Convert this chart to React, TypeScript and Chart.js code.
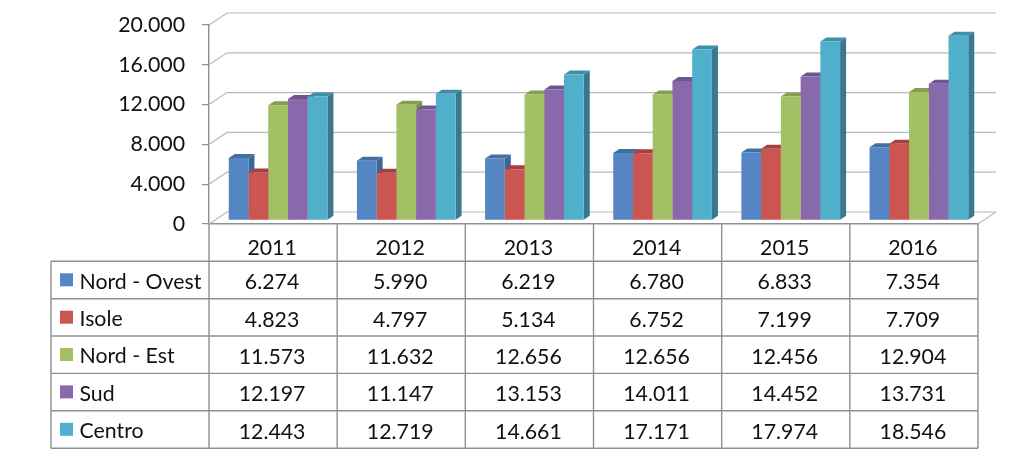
import React, { useEffect, useRef } from "react";
import { Chart, registerables } from "chart.js";

Chart.register(...registerables);

const years = ["2011", "2012", "2013", "2014", "2015", "2016"];
const seriesNames = ["Nord - Ovest", "Isole", "Nord - Est", "Sud", "Centro"];
const nordOvest = [6274, 5990, 6219, 6780, 6833, 7354];
const isole = [4823, 4797, 5134, 6752, 7199, 7709];
const nordEst = [11573, 11632, 12656, 12656, 12456, 12904];
const sud = [12197, 11147, 13153, 14011, 14452, 13731];
const centro = [12443, 12719, 14661, 17171, 17974, 18546];
const seriesValues = [nordOvest, isole, nordEst, sud, centro];

const frontColors = ["#5685C3", "#CB5551", "#A3C064", "#8769AC", "#50B0CC"];
const sideColors = ["#3A6698", "#9A3F3C", "#7B9148", "#63508A", "#38798F"];
const topColors = ["#41709F", "#A5413E", "#869E50", "#6D5691", "#3F8FA8"];

const FONT = "Lato, Carlito, sans-serif";
const FONT_SIZE = 21.3;
const TEXT = "#111111";
const GRID = "#b9b9b9";
const RULE = "#8f8f8f";

const DX = 18;
const DY = 12;
const BAR_SHIFT_X = 5;
const BAR_SHIFT_Y = -3.6;
const BAR_DEPTH_X = 6;
const BAR_DEPTH_Y = 4;
const TABLE_LEFT = 51;
const ROW_LINES = [261.3, 298.7, 336, 373.4, 410.8, 448.2];

const fmt = (v: number) => {
  const s = String(v);
  return s.length > 3 ? s.slice(0, -3) + "." + s.slice(-3) : s;
};

const wallPlugin = {
  id: "wall",
  beforeDatasetsDraw(chart: any) {
    const { ctx, scales } = chart;
    const y = scales.y;
    ctx.save();
    ctx.strokeStyle = GRID;
    ctx.lineWidth = 1.2;
    y.ticks.forEach((t: any) => {
      const py = y.getPixelForValue(t.value);
      ctx.beginPath();
      ctx.moveTo(y.right, py);
      ctx.lineTo(y.right + DX, py - DY);
      ctx.lineTo(scales.x.right + DX, py - DY);
      ctx.stroke();
    });
    const floor = y.getPixelForValue(0);
    ctx.beginPath();
    ctx.moveTo(scales.x.right + DX, floor - DY);
    ctx.lineTo(scales.x.right, floor);
    ctx.stroke();
    ctx.restore();
  },
};

const barDepthPlugin = {
  id: "barDepth",
  beforeDatasetsDraw(chart: any) {
    const { ctx } = chart;
    ctx.save();
    ctx.translate(BAR_SHIFT_X, BAR_SHIFT_Y);
    chart.data.datasets.forEach((_: any, d: number) => {
      chart.getDatasetMeta(d).data.forEach((bar: any) => {
        const l = bar.x - bar.width / 2;
        const r = bar.x + bar.width / 2;
        ctx.fillStyle = topColors[d];
        ctx.beginPath();
        ctx.moveTo(l, bar.y);
        ctx.lineTo(l + BAR_DEPTH_X, bar.y - BAR_DEPTH_Y);
        ctx.lineTo(r + BAR_DEPTH_X, bar.y - BAR_DEPTH_Y);
        ctx.lineTo(r, bar.y);
        ctx.closePath();
        ctx.fill();
        ctx.fillStyle = sideColors[d];
        ctx.beginPath();
        ctx.moveTo(r, bar.y);
        ctx.lineTo(r + BAR_DEPTH_X, bar.y - BAR_DEPTH_Y);
        ctx.lineTo(r + BAR_DEPTH_X, bar.base - BAR_DEPTH_Y);
        ctx.lineTo(r, bar.base);
        ctx.closePath();
        ctx.fill();
      });
    });
  },
  afterDatasetsDraw(chart: any) {
    chart.ctx.restore();
  },
};

const tablePlugin = {
  id: "dataTable",
  afterDraw(chart: any) {
    const { ctx, scales } = chart;
    const x = scales.x;
    const top = scales.y.bottom;
    const catW = (x.right - x.left) / years.length;
    ctx.save();
    ctx.strokeStyle = RULE;
    ctx.lineWidth = 1.4;
    ROW_LINES.forEach((py) => {
      ctx.beginPath();
      ctx.moveTo(TABLE_LEFT, py);
      ctx.lineTo(x.right, py);
      ctx.stroke();
    });
    ctx.beginPath();
    ctx.moveTo(TABLE_LEFT, ROW_LINES[0]);
    ctx.lineTo(TABLE_LEFT, ROW_LINES[5]);
    ctx.stroke();
    for (let i = 0; i <= years.length; i++) {
      const px = x.left + i * catW;
      ctx.beginPath();
      ctx.moveTo(px, top);
      ctx.lineTo(px, ROW_LINES[5]);
      ctx.stroke();
    }
    ctx.font = `${FONT_SIZE}px ${FONT}`;
    ctx.fillStyle = TEXT;
    ctx.textBaseline = "alphabetic";
    seriesNames.forEach((name, r) => {
      const rowTop = ROW_LINES[r];
      ctx.fillStyle = frontColors[r];
      ctx.fillRect(60, rowTop + 12, 13, 13);
      ctx.fillStyle = TEXT;
      ctx.textAlign = "left";
      ctx.fillText(name, 79.5, rowTop + 27.3);
      ctx.textAlign = "center";
      seriesValues[r].forEach((v, c) => {
        ctx.fillText(fmt(v), x.getPixelForValue(c) - 1, rowTop + 27.8);
      });
    });
    ctx.restore();
  },
};

export default function App() {
  const ref = useRef<HTMLCanvasElement>(null);
  useEffect(() => {
    const chart = new Chart(ref.current!, {
      type: "bar",
      data: {
        labels: years,
        datasets: seriesValues.map((data, i) => ({
          label: seriesNames[i],
          data,
          backgroundColor: frontColors[i],
          borderWidth: 0,
          categoryPercentage: 0.77,
          barPercentage: 1,
          clip: false as any,
        })),
      },
      options: {
        responsive: false,
        animation: false,
        layout: { padding: { top: 25, right: 45, left: 0, bottom: 0 } },
        plugins: { legend: { display: false }, tooltip: { enabled: false }, title: { display: false } },
        scales: {
          x: {
            afterFit: (s: any) => {
              s.height = 236;
            },
            grid: { display: false, drawTicks: false },
            border: { display: true, color: RULE, width: 1.4 },
            ticks: {
              color: TEXT,
              font: { family: FONT, size: FONT_SIZE },
              padding: 11,
              labelOffset: -1,
              maxRotation: 0,
              autoSkip: false,
            },
          },
          y: {
            min: 0,
            max: 20000,
            afterFit: (s: any) => {
              s.width = 209;
              s.paddingTop = 0;
              s.paddingBottom = 0;
            },
            grid: { drawOnChartArea: false, drawTicks: true, tickLength: 7, color: RULE, lineWidth: 1.2 },
            border: { display: true, color: RULE, width: 1.4 },
            ticks: {
              stepSize: 4000,
              color: TEXT,
              padding: 17,
              font: { family: FONT, size: FONT_SIZE },
              callback: (v: any) => fmt(Number(v)),
            },
          },
        },
      },
      plugins: [wallPlugin, barDepthPlugin, tablePlugin],
    });
    return () => chart.destroy();
  }, []);
  return (
    <div style={{ position: "absolute", left: 0, top: 0, width: 1023, height: 460, background: "#fff" }}>
      <canvas ref={ref} width={1023} height={460} style={{ display: "block" }} />
    </div>
  );
}
